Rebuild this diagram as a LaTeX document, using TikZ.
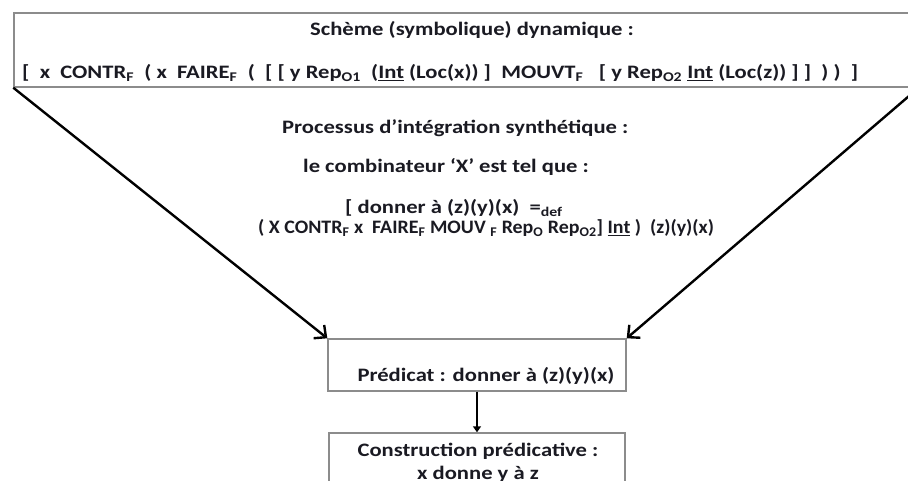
\documentclass[tikz,border=0pt]{standalone}
\usepackage{fontspec}
\setmainfont{Carlito}
\usetikzlibrary{arrows.meta}
\newcommand\mysub[1]{\textsubscript{#1}}
\newcommand\wide[1]{\scalebox{1.19}[1]{#1}}
\newcommand\narrowline[1]{\scalebox{1.05}[1]{#1}}
\definecolor{boxgray}{HTML}{8C8C8C}
\definecolor{txt}{HTML}{1A1A22}
\begin{document}
\begin{tikzpicture}[x=1pt,y=-1pt,
  frame/.style={draw=boxgray,line width=1.4pt,inner sep=0pt},
  lbl/.style={inner sep=0pt,font=\fontsize{19}{22}\selectfont\bfseries,text=txt},
  bigarrow/.style={line width=2.4pt,-{Straight Barb[length=9pt,width=17pt]}},
  smallarrow/.style={line width=2.2pt,-{Triangle[length=6pt,width=8pt]}}]
\useasboundingbox (0,0) rectangle (908,481);
% top box (extends beyond the right border)
\node[frame,minimum width=904pt,minimum height=74pt] (top) at (466,50) {};
\node[lbl] (t1) at (472,30) {\wide{Schème (symbolique) dynamique :}};
\node[lbl,anchor=west] (t2) at (22,73) {\wide{[\ \ x\ \ CONTR\mysub{F}\ \ (\ x\ \ FAIRE\mysub{F}\ \ (\ \ [\ [\ y Rep\mysub{O1}\ \ (\underline{Int} (Loc(x))\ ]\ \ MOUVT\mysub{F}\ \ \ [\ y Rep\mysub{O2} \underline{Int} (Loc(z))\ ]\ ]\ \ )\ )\ \ ]}};
% middle texts
\node[lbl,anchor=west] (p1) at (282,128) {\wide{Processus d’intégration synthétique :}};
\node[lbl,anchor=west] (p2) at (303,167) {\wide{le combinateur ‘X’ est tel que :}};
\node[lbl,anchor=west] (p3) at (345,208) {\wide{[ donner à (z)(y)(x)\ \ =\mysub{def}}};
\node[lbl,anchor=west] (p4) at (258,228) {\narrowline{( X CONTR\mysub{F} x\ \ FAIRE\mysub{F} MOUV \mysub{F} Rep\mysub{O} Rep\mysub{O2}] \underline{Int} )\ \ (z)(y)(x)}};
% predicate box
\node[frame,minimum width=298pt,minimum height=52pt] (pred) at (477,365) {};
\node[lbl] (predt) at (486,376) {\wide{Prédicat : donner à (z)(y)(x)}};
% construction box (extends beyond the bottom border)
\node[frame,minimum width=296pt,minimum height=70pt] (constr) at (477,468) {};
\node[lbl,align=center,anchor=north] (constrt) at (478,443) {\wide{Construction prédicative :}\\[1pt] \wide{x donne y à z}};
% connectors
\draw[bigarrow] (top.south west) -- (pred.north west);
\draw[bigarrow] (top.south east) -- (pred.north east);
\draw[smallarrow] (pred.south) -- (constr.north);
\end{tikzpicture}
\end{document}
